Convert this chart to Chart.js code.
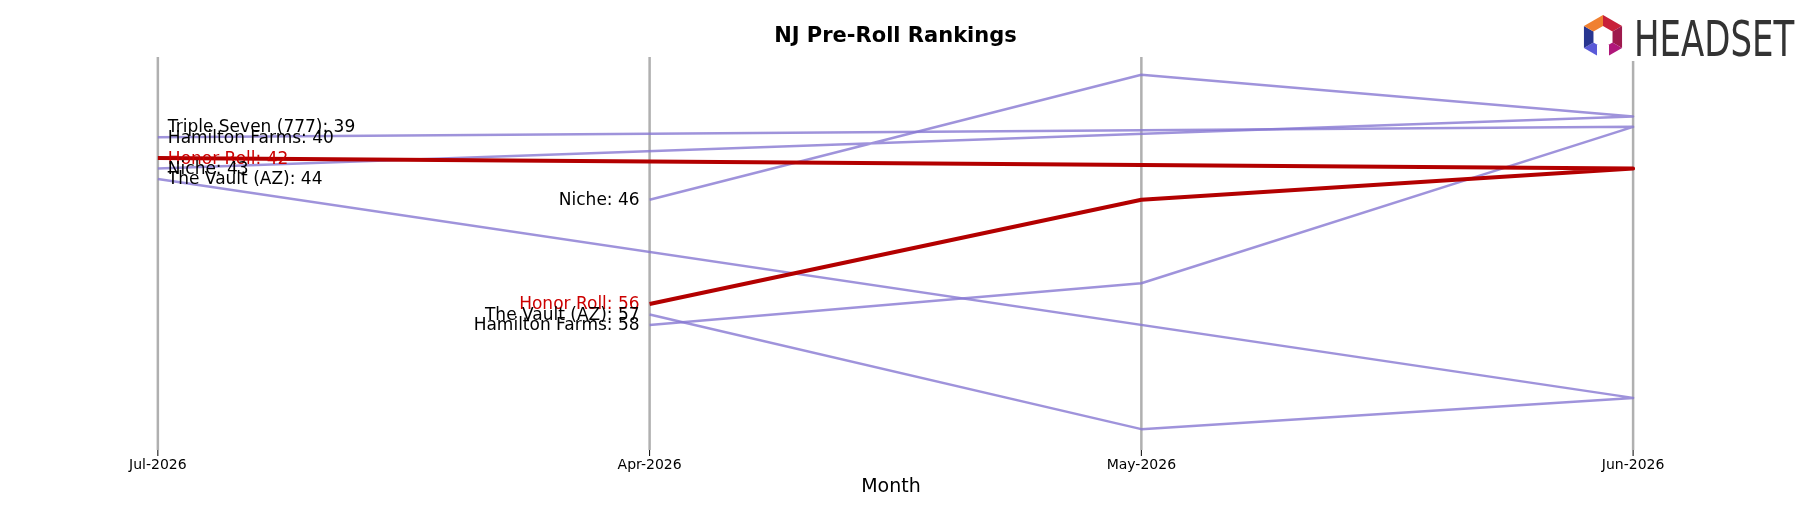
<!DOCTYPE html>
<html>
<head>
<meta charset="utf-8">
<script src="https://cdn.jsdelivr.net/npm/chart.js@4"></script>
<style>
  html, body { margin: 0; padding: 0; background: #fff; }
  #wrap { width: 1818px; height: 506px; }
</style>
</head>
<body>
<div id="wrap"><canvas id="rankChart"></canvas></div>
<script>
// x positions: 0 = Jul-2026, 1 = Apr-2026, 2 = May-2026, 3 = Jun-2026
const months = ["Jul-2026", "Apr-2026", "May-2026", "Jun-2026"];
const brands = ["Triple Seven (777)", "Hamilton Farms", "Honor Roll", "Niche", "The Vault (AZ)"];
// ranks per month, in months order (null = not ranked)
const tripleSeven = [39, null, null, null];
const hamiltonFarms = [40, 58, 54, 39];
const honorRoll = [42, 56, 46, 43];
const niche = [43, 46, 34, 38];
const theVault = [44, 57, 68, 65];
const rankSeries = [tripleSeven, hamiltonFarms, honorRoll, niche, theVault];
const highlight = "Honor Roll";

const purple = "rgba(135,120,210,0.8)";
const red = "#b30000";

// draw order: Apr -> May -> Jun -> Jul (Jul links straight to Jun)
const drawOrder = [1, 2, 3, 0];
function toPoints(ranks) {
  return drawOrder.filter(i => ranks[i] !== null).map(i => ({ x: i, y: ranks[i] }));
}

const datasets = brands.map((b, k) => ({
  label: b,
  data: toPoints(rankSeries[k]),
  borderColor: b === highlight ? red : purple,
  borderWidth: b === highlight ? 4 : 2.5,
  borderJoinStyle: "round",
  pointRadius: 0,
  fill: false,
  tension: 0,
  order: b === highlight ? 0 : 1,
}));

const decor = {
  id: "decor",
  beforeDatasetsDraw(chart) {
    const c = chart.ctx, xs = chart.scales.x, area = chart.chartArea;
    c.save();
    months.forEach((m, i) => {
      const px = xs.getPixelForValue(i);
      c.strokeStyle = "#b0b0b0"; c.lineWidth = 2.5;
      c.beginPath(); c.moveTo(px, i === 3 ? area.top + 4 : area.top); c.lineTo(px, area.bottom); c.stroke();
      c.strokeStyle = "#000"; c.lineWidth = 1;
      c.beginPath(); c.moveTo(px, area.bottom); c.lineTo(px, area.bottom + 6); c.stroke();
      c.fillStyle = "#000";
      c.font = "14px 'DejaVu Sans'";
      c.textAlign = "center"; c.textBaseline = "middle";
      c.fillText(m, px, area.bottom + 15);
    });
    c.font = "19px 'DejaVu Sans'";
    c.fillText("Month", (area.left + area.right) / 2 - 18, 487);
    const mid = (xs.getPixelForValue(0) + xs.getPixelForValue(3)) / 2;
    c.font = "bold 21px 'DejaVu Sans'";
    c.fillText("NJ Pre-Roll Rankings", mid, 37);
    // logo
    const lx = 1603, ly = 37;
    const cols = ["#c8203a", "#9e1a4d", "#b0177a", "#5a5ad8", "#283590", "#f08030"];
    for (let s = 0; s < 6; s++) {
      const a0 = (-90 + s * 60) * Math.PI / 180, a1 = (-90 + (s + 1) * 60) * Math.PI / 180;
      c.fillStyle = cols[s];
      c.beginPath();
      c.moveTo(lx + 11 * Math.cos(a0), ly + 11 * Math.sin(a0));
      c.lineTo(lx + 22 * Math.cos(a0), ly + 22 * Math.sin(a0));
      c.lineTo(lx + 22 * Math.cos(a1), ly + 22 * Math.sin(a1));
      c.lineTo(lx + 11 * Math.cos(a1), ly + 11 * Math.sin(a1));
      c.fill();
    }
    c.fillStyle = "#fff";
    c.fillRect(lx - 6, ly + 8, 12, 16);
    c.fillStyle = "#333";
    c.font = "50px 'DejaVu Sans'";
    c.textAlign = "left"; c.textBaseline = "alphabetic";
    c.translate(1634, 56);
    c.scale(0.68, 1);
    c.fillText("HEADSET", 0, 0);
    c.restore();
  },
  afterDatasetsDraw(chart) {
    const c = chart.ctx, xs = chart.scales.x, ys = chart.scales.y;
    c.save();
    c.font = "17px 'DejaVu Sans'";
    c.textBaseline = "middle";
    brands.forEach((b, k) => {
      c.fillStyle = b === highlight ? "#cc0000" : "#000";
      const r0 = rankSeries[k][0];
      if (r0 !== null) {
        c.textAlign = "left";
        c.fillText(b + ": " + r0, xs.getPixelForValue(0) + 10, ys.getPixelForValue(r0) + 1);
      }
      const r1 = rankSeries[k][1];
      if (r1 !== null) {
        c.textAlign = "right";
        c.fillText(b + ": " + r1, xs.getPixelForValue(1) - 10, ys.getPixelForValue(r1) + 1);
      }
    });
    c.restore();
  },
};

new Chart(document.getElementById("rankChart"), {
  type: "line",
  data: { datasets },
  options: {
    responsive: true,
    maintainAspectRatio: false,
    animation: false,
    layout: { padding: { top: 57, bottom: 56, left: 0, right: 0 } },
    scales: {
      x: { type: "linear", min: -0.321, max: 3.376, display: false },
      y: { min: 32.3, max: 70, reverse: true, display: false },
    },
    plugins: { legend: { display: false }, tooltip: { enabled: false } },
  },
  plugins: [decor],
});
</script>
</body>
</html>
